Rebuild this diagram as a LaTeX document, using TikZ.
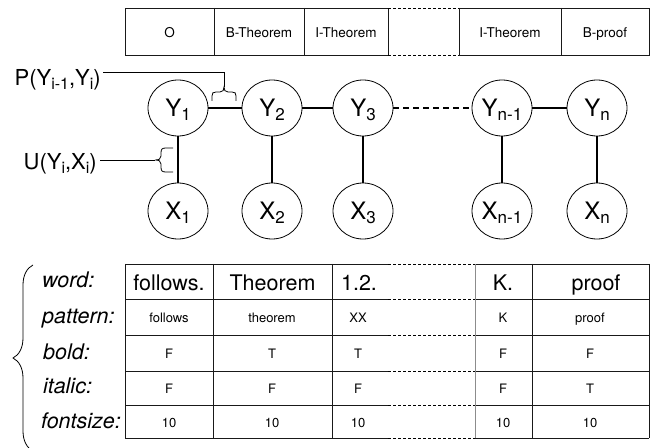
\documentclass[tikz,border=0pt]{standalone}
\usepackage{fontspec}
\setmainfont{TeX Gyre Heros}
\usetikzlibrary{shapes.geometric,decorations.pathreplacing,calc}
\newcommand\ysub[2]{#1\raisebox{-4bp}{\fontsize{17bp}{17bp}\selectfont #2}}
\newcommand\lsub[1]{\raisebox{-4bp}{\fontsize{16bp}{16bp}\selectfont #1}}
\begin{document}
\begin{tikzpicture}[x=1bp,y=-1bp,
  var/.style={ellipse,draw,line width=0.8bp,minimum width=60bp,minimum height=56bp,inner sep=0pt,text depth=0pt,font=\fontsize{24bp}{24bp}\selectfont},
  edge/.style={line width=1.9bp},
  conn/.style={line width=0.8bp},
  grid/.style={line width=0.9bp,draw=black!90},
  gap/.style={line width=0.7bp,dash pattern=on 3bp off 2bp},
  bigtxt/.style={anchor=base,inner sep=0pt,font=\fontsize{21.5bp}{21.5bp}\selectfont},
  smalltxt/.style={anchor=base,inner sep=0pt,font=\fontsize{13bp}{13bp}\selectfont},
  toptxt/.style={anchor=base,inner sep=0pt,font=\fontsize{13.5bp}{13.5bp}\selectfont},
  rowlab/.style={anchor=base west,inner sep=0pt,font=\fontsize{21.5bp}{21.5bp}\selectfont\itshape},
  sidelab/.style={anchor=base east,inner sep=0pt,font=\fontsize{22bp}{22bp}\selectfont},
  ]
\useasboundingbox (0,0) rectangle (662,448);

% ---------- top label table ----------
\draw[grid] (125,8) rectangle (388,55);
\draw[grid] (214,8) -- (214,55) (304,8) -- (304,55);
\draw[grid] (459,8) rectangle (649,55);
\draw[grid] (561,8) -- (561,55);
\draw[gap] (388,8) -- (459,8) (388,55) -- (459,55);
\node[toptxt] (t1) at (169.5,38) {O};
\node[toptxt] (t2) at (259,38) {B-Theorem};
\node[toptxt] (t3) at (346,38) {I-Theorem};
\node[toptxt] (t4) at (510,38) {I-Theorem};
\node[toptxt] (t5) at (605,38) {B-proof};

% ---------- CRF chain ----------
\node[var] (y1) at (178,108) {\ysub{Y}{1}};
\node[var] (y2) at (272,108) {\ysub{Y}{2}};
\node[var] (y3) at (363,108) {\ysub{Y}{3}};
\node[var] (yn1) at (502,108) {\ysub{Y}{n-1}};
\node[var] (yn) at (597,108) {\ysub{Y}{n}};
\node[var] (x1) at (178,211) {\ysub{X}{1}};
\node[var] (x2) at (272,211) {\ysub{X}{2}};
\node[var] (x3) at (363,211) {\ysub{X}{3}};
\node[var] (xn1) at (502,211) {\ysub{X}{n-1}};
\node[var] (xn) at (597,211) {\ysub{X}{n}};
\draw[edge] (y1) -- (y2);
\draw[edge] (y2) -- (y3);
\draw[edge,dash pattern=on 6bp off 4bp] (y3) -- (yn1);
\draw[edge] (yn1) -- (yn);
\draw[edge] (y1) -- (x1);
\draw[edge] (y2) -- (x2);
\draw[edge] (y3) -- (x3);
\draw[edge] (yn1) -- (xn1);
\draw[edge] (yn) -- (xn);

% ---------- potential labels ----------
\node[sidelab] (plab) at (101,86) {P(Y\lsub{i-1},Y\lsub{i})};
\node[sidelab] (ulab) at (97,170) {U(Y\lsub{i},X\lsub{i})};
\coordinate (ptip) at (224,87);
\coordinate (pcorner) at (224,72);
\coordinate (utip) at (155,160);
\draw[conn] ($(pcorner -| plab.east)+(2,0)$) -- (pcorner) -- (ptip);
\draw[conn] ($(utip -| ulab.east)+(3,0)$) -- (utip);
\draw[conn] (212,101) -- (212,96) .. controls (212,93) and (213,92) .. (216,92) -- (220,92)
  .. controls (223,92) and (224,90) .. (ptip) .. controls (224,90) and (225,92) .. (228,92)
  -- (232,92) .. controls (235,92) and (236,93) .. (236,96) -- (236,101);
\draw[conn] (173,148) -- (166,148) .. controls (162,148) and (161,149) .. (161,153) -- (161,156)
  .. controls (161,159) and (159,160) .. (utip) .. controls (159,160) and (161,161) .. (161,164)
  -- (161,167) .. controls (161,171) and (162,172) .. (166,172) -- (173,172);

% ---------- feature table ----------
\foreach \yy in {264,299,335,371,405,438} {
  \draw[grid] (125,\yy) -- (388,\yy);
  \draw[gap] (388,\yy) -- (475,\yy);
  \draw[grid] (475,\yy) -- (649,\yy);
}
\foreach \xx in {125,213,332,532,649} {
  \draw[grid] (\xx,264) -- (\xx,438);
}
\draw[line width=0.9bp,draw=black!45] (475,264) -- (475,438);

\draw[conn,decorate,decoration={brace,amplitude=20bp}] (33,451) -- (33,265);

\node[rowlab] (lw) at (42,288) {word:};
\node[rowlab] (lp) at (42,323.5) {pattern:};
\node[rowlab] (lb) at (43,359) {bold:};
\node[rowlab] (li) at (43,393.5) {italic:};
\node[rowlab] (lf) at (41,428) {fontsize:};

\node[bigtxt] (w1) at (169,291) {follows.};
\node[bigtxt] (w2) at (272.5,291) {Theorem};
\node[bigtxt] (w3) at (359,291) {1.2.};
\node[bigtxt] (w4) at (503,291) {K.};
\node[bigtxt] (w5) at (596,291) {proof};

\node[smalltxt] (p1) at (169,323) {follows};
\node[smalltxt] (p2) at (272,323) {theorem};
\node[smalltxt] (p3) at (358,323) {XX};
\node[smalltxt] (p4) at (503,323) {K};
\node[smalltxt] (p5) at (590,323) {proof};

\node[smalltxt] (b1) at (169,358.5) {F};
\node[smalltxt] (b2) at (272,358.5) {T};
\node[smalltxt] (b3) at (358,358.5) {T};
\node[smalltxt] (b4) at (503,358.5) {F};
\node[smalltxt] (b5) at (590,358.5) {F};

\node[smalltxt] (i1) at (169,393.5) {F};
\node[smalltxt] (i2) at (272,393.5) {F};
\node[smalltxt] (i3) at (358,393.5) {F};
\node[smalltxt] (i4) at (503,393.5) {F};
\node[smalltxt] (i5) at (590,393.5) {T};

\node[smalltxt] (f1) at (169,427.5) {10};
\node[smalltxt] (f2) at (272,427.5) {10};
\node[smalltxt] (f3) at (358,427.5) {10};
\node[smalltxt] (f4) at (503,427.5) {10};
\node[smalltxt] (f5) at (590,427.5) {10};
\end{tikzpicture}
\end{document}
